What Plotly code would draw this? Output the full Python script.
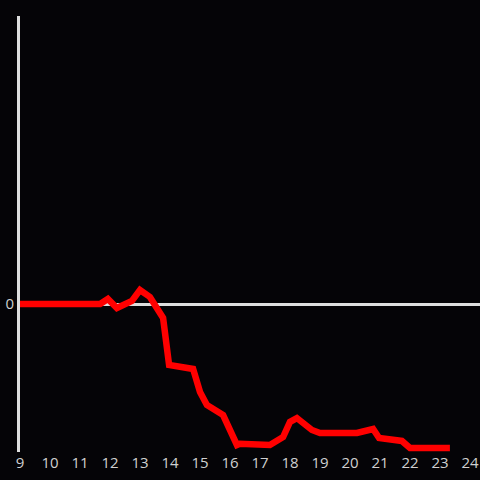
import plotly.graph_objects as go

hours = [9, 11.67, 11.93, 12.23, 12.73, 13.0, 13.33, 13.77, 13.97, 14.33, 14.77, 15.0,
         15.23, 15.77, 16.23, 16.33, 17.33, 17.77, 18.0, 18.23, 18.73, 19.0, 20.23,
         20.77, 20.97, 21.73, 22.0, 23.33]
values = [0, 0, 0.035, -0.028, 0.021, 0.097, 0.049, -0.097, -0.424, -0.437, -0.451, -0.611,
          -0.701, -0.771, -0.979, -0.97, -0.979, -0.924, -0.819, -0.792, -0.875, -0.896, -0.896,
          -0.868, -0.931, -0.951, -1.0, -1.0]
x_ticks = list(range(9, 25))

fig = go.Figure()
fig.add_trace(go.Scatter(x=hours, y=values, mode="lines",
                         line=dict(color="#ff0000", width=6.5), hoverinfo="skip"))

fig.update_layout(
    width=480, height=480,
    margin=dict(l=20, r=0, t=16, b=28),
    paper_bgcolor="#050407", plot_bgcolor="#050407",
    showlegend=False,
    font=dict(family="Open Sans", color="#d0d0d0", size=15),
    xaxis=dict(range=[9, 24 + 1 / 3], tickvals=x_ticks, ticktext=[str(t) for t in x_ticks],
               showgrid=False, zeroline=False, showline=False, ticks="", automargin=False),
    yaxis=dict(range=[-1.0278, 2], tickvals=[0], ticktext=["0"],
               showgrid=False, zeroline=True, zerolinecolor="#dedede", zerolinewidth=3,
               showline=True, linecolor="#dedede", linewidth=3, ticks="", automargin=False),
)
fig.write_html("out.html", config={"displayModeBar": False},
               post_script="document.body.style.margin='0';document.body.style.background='#050407';")
